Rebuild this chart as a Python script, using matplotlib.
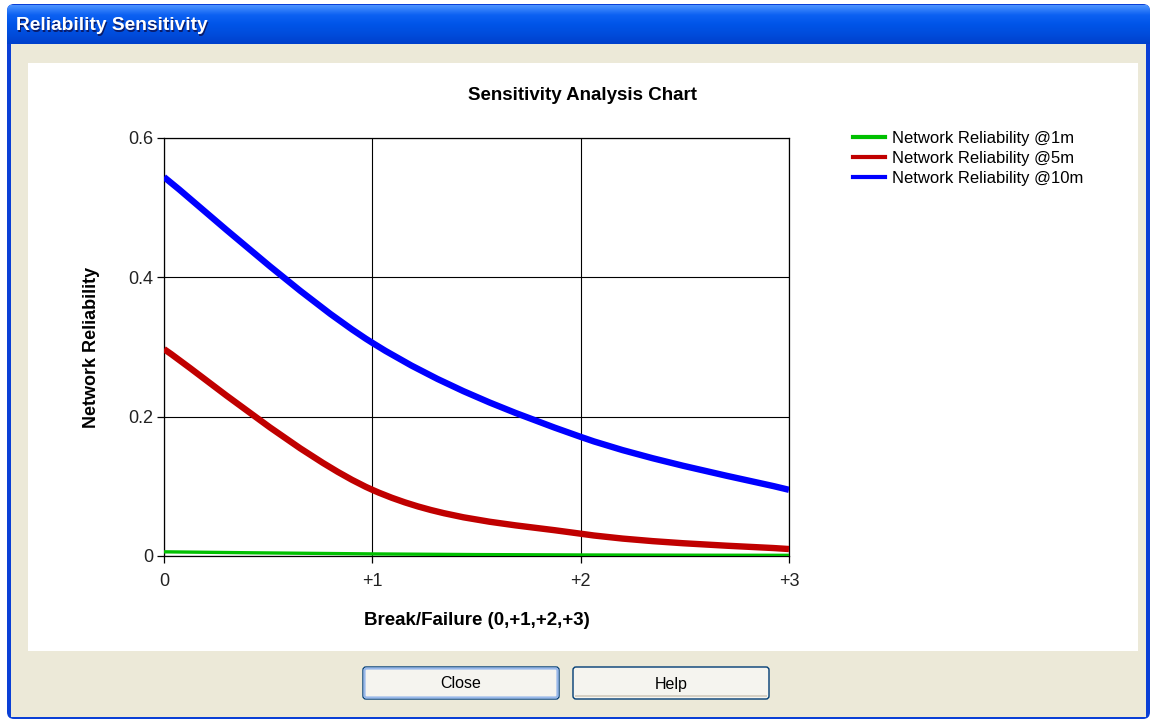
import numpy as np
import matplotlib
matplotlib.use("Agg")
import matplotlib.pyplot as plt
from matplotlib.path import Path
from matplotlib.patches import PathPatch, Rectangle, FancyBboxPatch
from matplotlib.lines import Line2D

plt.rcParams['font.family'] = ['Liberation Sans', 'DejaVu Sans']

# ---- data ----
break_levels = [0, 1, 2, 3]
break_labels = ['0', '+1', '+2', '+3']
y_ticks = [0, 0.2, 0.4, 0.6]
y_tick_labels = ['0', '0.2', '0.4', '0.6']
rel_1m = [0.006, 0.003, 0.0015, 0.001]
rel_5m = [0.297, 0.095, 0.032, 0.010]
rel_10m = [0.544, 0.306, 0.171, 0.095]
series = [rel_1m, rel_5m, rel_10m]
series_names = ['Network Reliability @1m', 'Network Reliability @5m',
                'Network Reliability @10m']
series_colors = ['#00C000', '#C00000', '#0000FF']
series_widths = [2.4, 4.6, 4.6]

W, H = 1155, 721
fig = plt.figure(figsize=(W / 100, H / 100), dpi=100)
fig.patch.set_facecolor('white')

# ---- dialog window chrome (pixel coordinates) ----
bg = fig.add_axes([0, 0, 1, 1], zorder=0)
bg.set_xlim(0, W)
bg.set_ylim(H, 0)
bg.axis('off')

# blue window frame
bg.add_patch(FancyBboxPatch((7, 4), 1143, 715, boxstyle='round,pad=0,rounding_size=7',
                            facecolor='#0A3FD6', edgecolor='none'))
# title bar gradient
grad = np.linspace(0, 1, 60)
cols = np.array([
    [0.30, 0.58, 1.00],
    [0.05, 0.38, 0.95],
    [0.00, 0.33, 0.91],
    [0.00, 0.30, 0.86],
    [0.00, 0.25, 0.80],
])
stops = np.linspace(0, 1, len(cols))
img = np.stack([np.interp(grad, stops, cols[:, c]) for c in range(3)], axis=-1)
img = img.reshape(-1, 1, 3)
im = bg.imshow(img, extent=(7, 1150, 44, 5), aspect='auto', zorder=1)
im.set_clip_path(FancyBboxPatch((7, 4), 1143, 60, boxstyle='round,pad=0,rounding_size=7',
                                transform=bg.transData))
# beige client area
bg.add_patch(Rectangle((11, 44), 1135, 673, facecolor='#ECE9D8', edgecolor='none', zorder=2))
# white chart panel
bg.add_patch(Rectangle((28, 63), 1110, 588, facecolor='white', edgecolor='none', zorder=3))

# window caption with shadow
bg.text(17, 27, 'Reliability Sensitivity', color='#0A1C6A', fontsize=13.8,
        fontweight='bold', va='center', ha='left', zorder=4)
bg.text(16, 26, 'Reliability Sensitivity', color='white', fontsize=13.8,
        fontweight='bold', va='center', ha='left', zorder=5)

# buttons
for x0, label, focused in [(363, 'Close', True), (573, 'Help', False)]:
    bg.add_patch(FancyBboxPatch((x0, 667), 196, 32, boxstyle='round,pad=0,rounding_size=3',
                                facecolor='#F5F4EF', edgecolor='#003C74', lw=1.0, zorder=4))
    if focused:
        bg.add_patch(FancyBboxPatch((x0 + 1.5, 668.5), 193, 29,
                                    boxstyle='round,pad=0,rounding_size=2',
                                    facecolor='none', edgecolor='#98B8EA', lw=1.6, zorder=5))
    else:
        bg.add_patch(Rectangle((x0 + 2, 695), 192, 2, facecolor='#D6D0C4',
                               edgecolor='none', zorder=5))
    bg.text(x0 + 98, 684, label, fontsize=11.5, ha='center', va='center',
            color='black', zorder=6)

# ---- chart ----
x0p, x1p, y0p, y1p = 164, 789, 556, 138
ax = fig.add_axes([x0p / W, 1 - y0p / H, (x1p - x0p) / W, (y0p - y1p) / H], zorder=5)
ax.set_facecolor('white')
ax.set_xlim(break_levels[0], break_levels[-1])
ax.set_ylim(0, 0.6)


def spline_path(xs, ys):
    """Catmull-Rom curve through the points, expressed as cubic Bezier segments."""
    pts = np.column_stack([xs, ys]).astype(float)
    ext = np.vstack([pts[0], pts, pts[-1]])
    verts = [tuple(pts[0])]
    codes = [Path.MOVETO]
    for i in range(1, len(ext) - 2):
        p0, p1, p2, p3 = ext[i - 1], ext[i], ext[i + 1], ext[i + 2]
        c1 = p1 + (p2 - p0) / 6.0
        c2 = p2 - (p3 - p1) / 6.0
        verts += [tuple(c1), tuple(c2), tuple(p2)]
        codes += [Path.CURVE4] * 3
    return Path(verts, codes)


handles = []
for vals, name, col, lw in zip(series, series_names, series_colors, series_widths):
    patch = PathPatch(spline_path(break_levels, vals), facecolor='none', edgecolor=col,
                      lw=lw, zorder=3, capstyle='butt', joinstyle='round')
    ax.add_patch(patch)
    handles.append(Line2D([], [], color=col, lw=3.0, label=name))

ax.set_xticks(break_levels)
ax.set_xticklabels(break_labels)
ax.set_yticks(y_ticks)
ax.set_yticklabels(y_tick_labels)
ax.grid(True, color='black', lw=0.8, zorder=1)
ax.set_axisbelow(True)
for sp in ax.spines.values():
    sp.set_color('black')
    sp.set_linewidth(0.9)
ax.tick_params(axis='both', direction='out', length=5, width=0.9, color='black',
               labelsize=13, labelcolor='#222222', pad=3)
ax.tick_params(axis='x', pad=7)

ax.set_xlabel('Break/Failure (0,+1,+2,+3)', fontsize=13.5, fontweight='bold', labelpad=16)
ax.set_ylabel('Network Reliability', fontsize=13, fontweight='bold', labelpad=20)

fig.text(583 / W, 1 - 95 / H, 'Sensitivity Analysis Chart', fontsize=13.5, fontweight='bold',
         ha='center', va='center', zorder=6)

fig.legend(handles=handles, loc='upper left', bbox_to_anchor=(853 / W, 1 - 131 / H),
           frameon=False, fontsize=12, handlelength=1.9, handletextpad=0.45,
           labelspacing=0.3, borderaxespad=0, borderpad=0)

fig.savefig('out.png', dpi=100, facecolor=fig.get_facecolor())
